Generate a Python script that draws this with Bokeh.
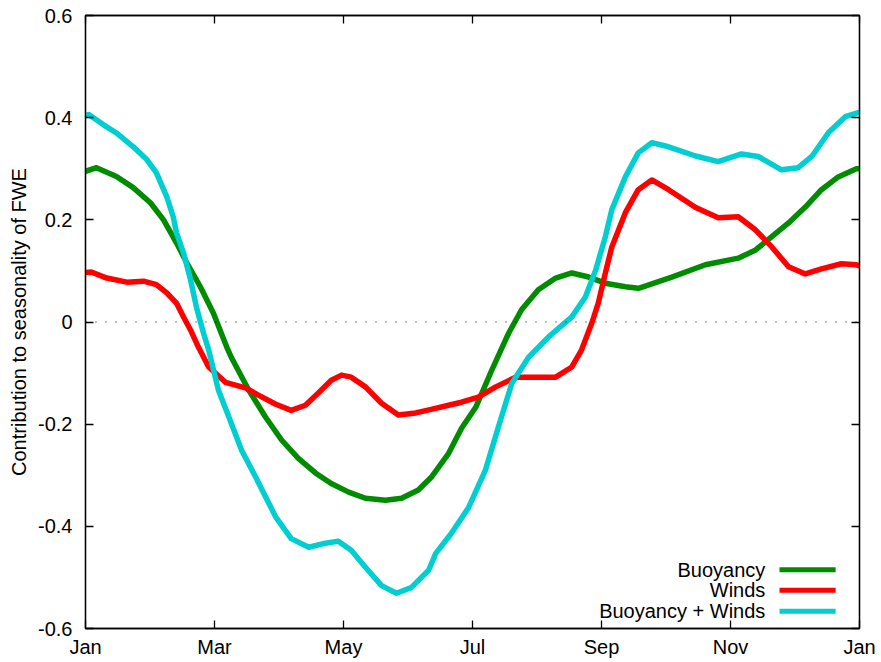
from bokeh.plotting import figure
from bokeh.models import FixedTicker, LinearAxis, Span, Label, Range1d
from bokeh.embed import file_html
from bokeh.resources import INLINE

# ---- data (x in months since 1 Jan, y = contribution to seasonality of FWE) ----
buoy_x = [0.0, 0.17, 0.48, 0.74, 1.01, 1.21, 1.41, 1.57, 1.78, 1.98, 2.19, 2.26, 2.53, 2.79,
          3.04, 3.30, 3.57, 3.81, 4.08, 4.34, 4.65, 4.90, 5.16, 5.36, 5.63, 5.83, 6.05, 6.30,
          6.56, 6.76, 7.02, 7.29, 7.54, 7.80, 8.06, 8.37, 8.57, 8.62, 9.09, 9.61, 10.12, 10.39,
          10.64, 10.90, 11.16, 11.41, 11.67, 11.95, 12.0]
buoy_y = [0.295, 0.302, 0.285, 0.263, 0.233, 0.200, 0.155, 0.116, 0.069, 0.018, -0.049, -0.069,
          -0.133, -0.186, -0.231, -0.267, -0.296, -0.316, -0.333, -0.345, -0.349, -0.345, -0.329,
          -0.304, -0.257, -0.208, -0.167, -0.094, -0.022, 0.024, 0.063, 0.086, 0.096, 0.088,
          0.076, 0.069, 0.066, 0.068, 0.088, 0.112, 0.125, 0.141, 0.167, 0.194, 0.225, 0.259,
          0.284, 0.300, 0.300]

wind_x = [0.0, 0.09, 0.33, 0.64, 0.90, 1.10, 1.26, 1.41, 1.52, 1.63, 1.75, 1.91, 2.17, 2.48,
          2.68, 2.95, 3.19, 3.41, 3.61, 3.81, 3.97, 4.12, 4.34, 4.59, 4.85, 5.12, 5.36, 5.63,
          5.83, 6.09, 6.36, 6.67, 7.02, 7.29, 7.54, 7.69, 7.85, 7.95, 8.06, 8.16, 8.37, 8.57,
          8.78, 9.04, 9.46, 9.81, 10.12, 10.39, 10.64, 10.90, 11.16, 11.41, 11.72, 11.95, 12.0]
wind_y = [0.097, 0.098, 0.086, 0.078, 0.080, 0.073, 0.057, 0.037, 0.010, -0.016, -0.049, -0.088,
          -0.118, -0.129, -0.143, -0.161, -0.173, -0.163, -0.139, -0.114, -0.104, -0.108, -0.127,
          -0.159, -0.182, -0.178, -0.171, -0.163, -0.157, -0.147, -0.127, -0.108, -0.108, -0.108,
          -0.088, -0.055, -0.002, 0.037, 0.096, 0.147, 0.214, 0.259, 0.278, 0.259, 0.224, 0.204,
          0.206, 0.180, 0.147, 0.108, 0.094, 0.104, 0.114, 0.112, 0.110]

both_x = [0.0, 0.05, 0.28, 0.48, 0.74, 0.95, 1.10, 1.26, 1.36, 1.41, 1.52, 1.63, 1.72, 1.83,
          1.91, 2.06, 2.26, 2.42, 2.64, 2.95, 3.19, 3.46, 3.72, 3.92, 4.12, 4.34, 4.59, 4.82,
          5.05, 5.32, 5.43, 5.67, 5.94, 6.20, 6.40, 6.61, 6.87, 7.18, 7.54, 7.75, 7.91, 8.06,
          8.16, 8.37, 8.57, 8.78, 9.04, 9.46, 9.81, 10.17, 10.43, 10.79, 11.05, 11.26, 11.52,
          11.78, 11.98, 12.0]
both_y = [0.405, 0.406, 0.386, 0.370, 0.343, 0.318, 0.292, 0.245, 0.206, 0.175, 0.135, 0.082,
          0.029, -0.022, -0.055, -0.133, -0.198, -0.251, -0.304, -0.382, -0.424, -0.441, -0.433,
          -0.429, -0.447, -0.480, -0.516, -0.531, -0.520, -0.486, -0.453, -0.414, -0.363, -0.290,
          -0.206, -0.120, -0.069, -0.029, 0.010, 0.049, 0.102, 0.167, 0.220, 0.284, 0.331, 0.351,
          0.343, 0.325, 0.314, 0.329, 0.324, 0.298, 0.302, 0.324, 0.371, 0.402, 0.410, 0.410]

series_names = ["Buoyancy", "Winds", "Buoyancy + Winds"]
series_colors = ["#008c00", "#ff0000", "#00ced1"]

month_ticks = [0, 2, 4, 6, 8, 10, 12]
month_labels = ["Jan", "Mar", "May", "Jul", "Sep", "Nov", "Jan"]
y_ticks = [-0.6, -0.4, -0.2, 0, 0.2, 0.4, 0.6]
y_labels = ["-0.6", "-0.4", "-0.2", "0", "0.2", "0.4", "0.6"]

FONT = "Liberation Sans"
FS = "20px"

p = figure(width=879, height=660, output_backend="svg", toolbar_location=None,
           x_range=Range1d(0, 12), y_range=Range1d(-0.6, 0.6),
           min_border_left=85, min_border_right=20, min_border_top=15, min_border_bottom=30)
p.background_fill_color = "white"
p.border_fill_color = "white"
p.outline_line_color = "black"
p.outline_line_width = 1.3
p.grid.visible = False

def style_axis(ax, show_labels):
    ax.major_tick_in = 8
    ax.major_tick_out = 0
    ax.minor_tick_line_color = None
    ax.axis_line_color = "black"
    ax.axis_line_width = 1.3
    ax.major_tick_line_color = "black"
    ax.major_tick_line_width = 1.3
    ax.major_label_text_font = FONT
    ax.major_label_text_color = "black"
    ax.major_label_text_font_size = FS
    if not show_labels:
        ax.major_label_standoff = 0

xb = p.xaxis[0]
xb.ticker = FixedTicker(ticks=month_ticks)
xb.major_label_overrides = {t: l for t, l in zip(month_ticks, month_labels)}
xb.major_label_standoff = 7
style_axis(xb, True)

yl = p.yaxis[0]
yl.ticker = FixedTicker(ticks=y_ticks)
yl.major_label_overrides = {t: l for t, l in zip(y_ticks, y_labels)}
yl.major_label_standoff = 13
yl.axis_label = "Contribution to seasonality of FWE"
yl.axis_label_text_font = FONT
yl.axis_label_text_font_size = FS
yl.axis_label_text_font_style = "normal"
yl.axis_label_text_color = "black"
yl.axis_label_standoff = 5
style_axis(yl, True)

xt = LinearAxis(ticker=FixedTicker(ticks=month_ticks))
xt.major_label_overrides = {t: "" for t in month_ticks}
style_axis(xt, False)
p.add_layout(xt, "above")
yr = LinearAxis(ticker=FixedTicker(ticks=y_ticks))
yr.major_label_overrides = {t: "" for t in y_ticks}
style_axis(yr, False)
p.add_layout(yr, "right")

p.add_layout(Span(location=0, dimension="width", line_color="black",
                  line_width=1, line_dash="1 9"))

xs = [buoy_x, wind_x, both_x]
ys = [buoy_y, wind_y, both_y]
for x, y, c in zip(xs, ys, series_colors):
    p.line(x, y, line_color=c, line_width=5.5, line_join="round", line_cap="round")

# legend (gnuplot style: text right-aligned, sample line to the right)
leg_text_x = 10.54
leg_line_x0, leg_line_x1 = 10.76, 11.63
leg_y = [-0.485, -0.525, -0.566]
for name, c, yy in zip(series_names, series_colors, leg_y):
    p.add_layout(Label(x=leg_text_x, y=yy, text=name, text_align="right",
                       text_baseline="middle", text_font=FONT, text_font_size=FS,
                       text_color="black"))
    p.segment(x0=[leg_line_x0], y0=[yy], x1=[leg_line_x1], y1=[yy],
              line_color=c, line_width=5)

open("out.html", "w").write(file_html(p, INLINE))
